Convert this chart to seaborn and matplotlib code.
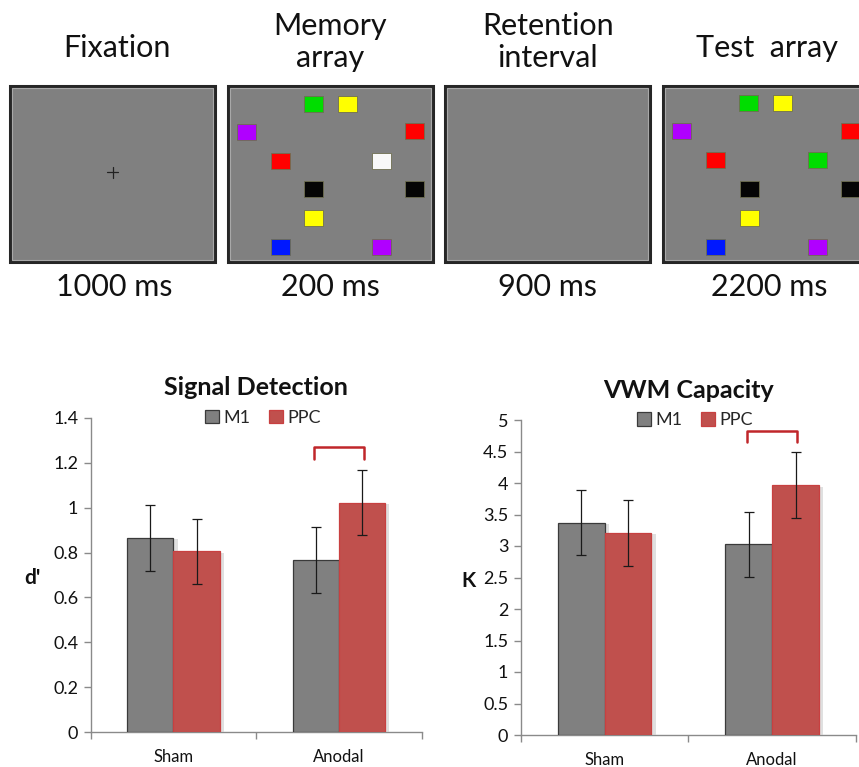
import numpy as np
import pandas as pd
import matplotlib
matplotlib.use("Agg")
import matplotlib.pyplot as plt
import matplotlib.patheffects as pe
from matplotlib.patches import Rectangle
import seaborn as sns

# ---------------- data ----------------
conditions = ["Sham", "Anodal"]
sites = ["M1", "PPC"]
dprime_m1 = [0.865, 0.765]
dprime_ppc = [0.805, 1.022]
dprime_err_m1 = [0.145, 0.147]
dprime_err_ppc = [0.145, 0.146]
k_m1 = [3.37, 3.025]
k_ppc = [3.205, 3.965]
k_err_m1 = [0.52, 0.52]
k_err_ppc = [0.52, 0.52]

stage_names = ["Fixation", "Memory\narray", "Retention\ninterval", "Test  array"]
stage_times = ["1000 ms", "200 ms", "900 ms", "2200 ms"]

# ---------------- style ----------------
sns.set_theme(style="white")
plt.rcParams["font.family"] = ["Lato", "DejaVu Sans"]

GREY = "#808080"
RED = "#C0504D"
palette = {"M1": GREY, "PPC": RED}

W, H = 859, 767
fig = plt.figure(figsize=(W / 100, H / 100), dpi=100)

# ---------------- top schematic (pixel-coordinate overlay) ----------------
axt = fig.add_axes([0, 0, 1, 1])
axt.set_xlim(0, W)
axt.set_ylim(H, 0)
axt.axis("off")
axt.set_zorder(-1)

box_x = [10, 228, 445, 663]
box_w = 205
box_y, box_h = 86, 176
for bx in box_x:
    axt.add_patch(Rectangle((bx, box_y), box_w, box_h, facecolor="#808080",
                            edgecolor="#262626", lw=2.2))
    axt.add_patch(Rectangle((bx + 2, box_y + 2), box_w - 4, box_h - 4, facecolor="none",
                            edgecolor="#a8a8a8", lw=0.8))

# fixation cross
axt.plot([107, 118], [172, 172], color="#222222", lw=0.9)
axt.plot([112.5, 112.5], [166.5, 177.5], color="#222222", lw=0.9)

# coloured squares (relative to box left edge / absolute y)
sq_mem = [(76, 96, "#00dd00"), (110, 96, "#ffff00"), (9, 124, "#b000ff"),
          (177, 123, "#ff0000"), (43, 153, "#ff0000"), (144, 153, "#f8f8f8"),
          (76, 181, "#050505"), (177, 181, "#050505"), (76, 210, "#ffff00"),
          (43, 239, "#0018ff"), (144, 239, "#b000ff")]
sq_test = [(76, 95, "#00dd00"), (110, 95, "#ffff00"), (9, 123, "#b000ff"),
           (178, 123, "#ff0000"), (43, 152, "#ff0000"), (145, 152, "#00dd00"),
           (77, 181, "#050505"), (178, 181, "#050505"), (77, 210, "#ffff00"),
           (43, 239, "#0018ff"), (145, 239, "#b000ff")]
for base, sqs in ((box_x[1], sq_mem), (box_x[3], sq_test)):
    for dx, y, c in sqs:
        axt.add_patch(Rectangle((base + dx, y), 18.5, 15.5, facecolor=c,
                                edgecolor="#6e6e50", lw=0.6))

label_x = [117, 330, 548, 767]
label_y = [48, 42, 42, 48]
for x, y, s in zip(label_x, label_y, stage_names):
    axt.text(x, y, s, ha="center", va="center", fontsize=22, color="#111111",
             linespacing=1.2)
time_x = [114, 330, 548, 769]
for x, s in zip(time_x, stage_times):
    axt.text(x, 287, s, ha="center", va="center", fontsize=22, color="#111111")

# ---------------- bar charts ----------------
def bar_panel(rect, m1, ppc, em1, eppc, ylim, yticks, ticklabels, title, ylabel,
              ylabel_x, bracket):
    ax = fig.add_axes(rect)
    df = pd.DataFrame({
        "condition": conditions * 2,
        "site": [sites[0]] * 2 + [sites[1]] * 2,
        "value": list(m1) + list(ppc),
    })
    sns.barplot(data=df, x="condition", y="value", hue="site", order=conditions,
                hue_order=sites, palette=palette, width=0.56, errorbar=None,
                saturation=1, ax=ax, zorder=3)
    errs = list(em1) + list(eppc)
    for p in ax.patches:
        fc = matplotlib.colors.to_hex(p.get_facecolor())
        p.set_edgecolor("#3a3a3a" if fc.lower() == GREY.lower() else "#c84040")
        p.set_linewidth(0.9)
        p.set_path_effects([pe.SimplePatchShadow(offset=(3, -1), shadow_rgbFace="#c8c8c8",
                                                 alpha=0.55), pe.Normal()])
    bars = [p for p in ax.patches if p.get_height() > 0][:4]
    xs = [b.get_x() + b.get_width() / 2 for b in bars]
    ys = [b.get_height() for b in bars]
    ax.errorbar(xs, ys, yerr=errs, fmt="none", ecolor="#1a1a1a", elinewidth=0.9,
                capsize=3.5, capthick=0.9, zorder=5)
    # significance bracket over Anodal pair
    bx0, bx1 = xs[1], xs[3]
    ytop, ybot = bracket
    ax.plot([bx0 - 0.01, bx0 - 0.01, bx1 + 0.01, bx1 + 0.01],
            [ybot, ytop, ytop, ybot], color="#c0262a", lw=1.8, zorder=5,
            solid_joinstyle="round", solid_capstyle="round", clip_on=False)
    ax.set_xlim(-0.5, 1.5)
    ax.set_ylim(*ylim)
    ax.set_yticks(yticks)
    ax.set_yticklabels(ticklabels)
    ax.set_xticks([0, 1])
    ax.set_xticklabels(conditions)
    ax.set_xlabel("")
    ax.set_ylabel("")
    for s in ["top", "right"]:
        ax.spines[s].set_visible(False)
    for s in ["left", "bottom"]:
        ax.spines[s].set_color("#8a8a8a")
        ax.spines[s].set_linewidth(1.0)
    ax.tick_params(axis="y", which="major", left=True, length=5, width=1.0,
                   color="#8a8a8a", labelsize=13, labelcolor="#111111", pad=4)
    ax.tick_params(axis="x", which="major", bottom=False, labelsize=12,
                   labelcolor="#111111", pad=6)
    ax.set_xticks([-0.5, 0.5, 1.5], minor=True)
    ax.tick_params(axis="x", which="minor", bottom=True, length=5, width=1.0,
                   color="#8a8a8a", direction="out")
    ax.set_title(title, fontsize=18, fontweight="bold", color="#111111", pad=16)
    ax.text(ylabel_x, 0.49, ylabel, transform=ax.transAxes, ha="center",
            va="center", fontsize=15, fontweight="bold", color="#111111")
    leg = ax.legend(loc="center", bbox_to_anchor=(0.52, 1.0), ncol=2,
                    frameon=False, fontsize=13, handlelength=0.8, handleheight=0.8,
                    handletextpad=0.25, columnspacing=1.0, borderaxespad=0)
    for h in leg.legend_handles:
        h.set_path_effects([])
    ax.patch.set_alpha(0)
    return ax

bar_panel([90.7 / W, 1 - 732.3 / H, (421.7 - 90.7) / W, (732.3 - 417.7) / H],
          dprime_m1, dprime_ppc, dprime_err_m1, dprime_err_ppc,
          (0, 1.4), np.arange(0, 1.41, 0.2), ["0", "0.2", "0.4", "0.6", "0.8", "1", "1.2", "1.4"],
          "Signal Detection", "d'", -0.175, (1.271, 1.215))

bar_panel([520.7 / W, 1 - 735 / H, (856 - 520.7) / W, (735 - 420) / H],
          k_m1, k_ppc, k_err_m1, k_err_ppc,
          (0, 5), np.arange(0, 5.01, 0.5),
          ["0", "0.5", "1", "1.5", "2", "2.5", "3", "3.5", "4", "4.5", "5"],
          "VWM Capacity", "K", -0.155, (4.831, 4.656))

fig.savefig("out.png", dpi=100)
